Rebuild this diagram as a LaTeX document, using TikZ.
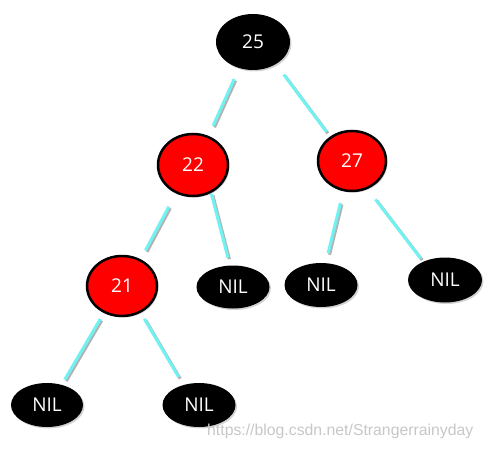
\documentclass[tikz,border=0pt]{standalone}
\usepackage{fontspec}
\setmainfont{Open Sans}
\newfontfamily\wmfont{Liberation Sans}
\usepackage{tikz}
\usetikzlibrary{shapes.geometric,shadows}
\definecolor{rbred}{HTML}{FF0000}
\definecolor{lnkc}{HTML}{70F2F2}
\newcommand{\Nil}{NIL}

\begin{document}
\begin{tikzpicture}[x=1pt, y=-1pt,
  key/.style={ellipse, inner sep=0pt, text=white, font=\fontsize{19}{19}\selectfont,
              drop shadow={shadow xshift=1.5pt, shadow yshift=-1.5pt, opacity=0.35}},
  blk/.style={key, fill=black},
  rd/.style={key, fill=rbred, draw=black, line width=2.5pt},
  lnk/.style={draw=lnkc, line width=3pt},
  lnksh/.style={draw=black!60, line width=3pt, opacity=0.5,
                transform canvas={shift={(1.5pt,-1.5pt)}}}
]
\useasboundingbox (0,0) rectangle (484,449);

\node[blk, minimum width=74pt, minimum height=56pt] (n25) at (253,42) {25};
\node[rd, minimum width=70pt, minimum height=62pt] (n22) at (193,165) {22};
\node[rd, minimum width=68pt, minimum height=60pt] (n27) at (352,161) {27};
\node[rd, minimum width=70pt, minimum height=60pt] (n21) at (122,286) {21};
\node[blk, minimum width=73pt, minimum height=43pt] (nil1) at (233,287) {\Nil};
\node[blk, minimum width=73pt, minimum height=44pt] (nil2) at (321,285) {\Nil};
\node[blk, minimum width=74pt, minimum height=45pt] (nil3) at (445,280) {\Nil};
\node[blk, minimum width=72pt, minimum height=44pt] (nil4) at (47,405) {\Nil};
\node[blk, minimum width=73pt, minimum height=44pt] (nil5) at (199,405) {\Nil};

% links, parent -> child, with a gap at both ends
\foreach \a/\b/\s/\e in {n25.-118/n22.62/12/11, n25.-44/n27.132/13/6,
    n22.-121/n21.55/15/10, n22.-57/nil1.98/1/8,
    n21.-124/nil4.54/7/6, n21.-55/nil5.128/7/9,
    n27.-106/nil2.78/12/10, n27.-61/nil3.140/13/4} {
  \draw[lnksh, shorten <=\s pt, shorten >=\e pt] (\a) -- (\b);
  \draw[lnk, shorten <=\s pt, shorten >=\e pt] (\a) -- (\b);
}

\node[anchor=west, inner sep=0pt, text=black!22, font=\wmfont\fontsize{15.8}{16}\selectfont] (wm) at (207,431) {https://blog.csdn.net/Strangerrainyday};
\end{tikzpicture}
\end{document}
